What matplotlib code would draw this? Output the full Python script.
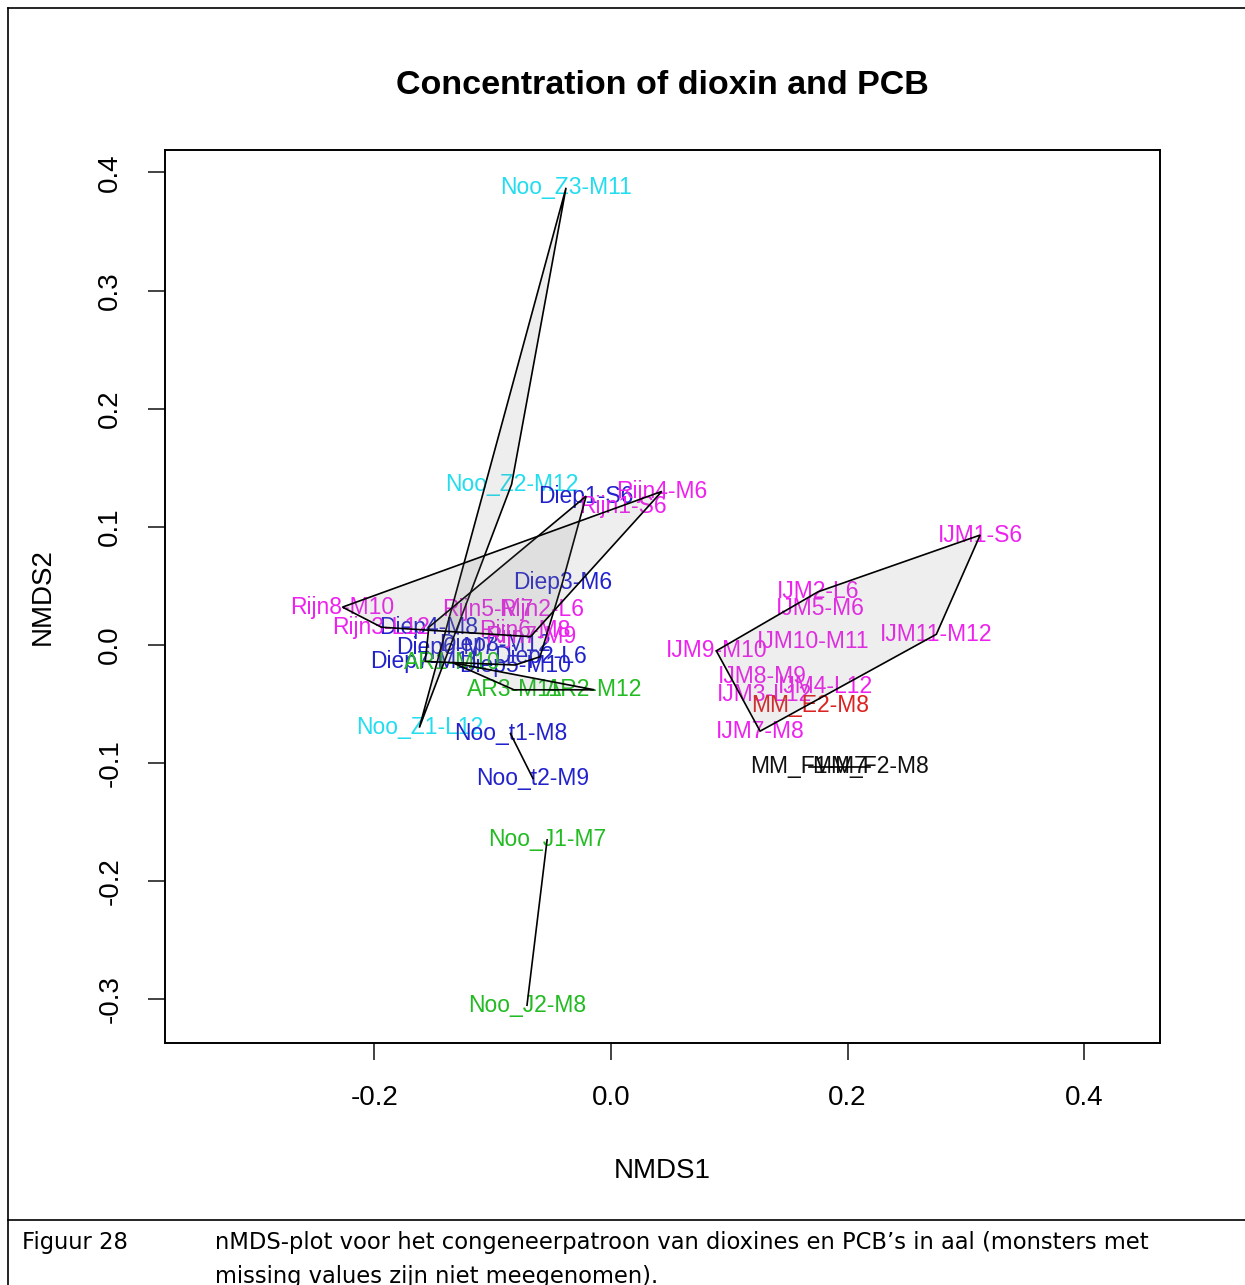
import numpy as np
import matplotlib.pyplot as plt
from matplotlib.lines import Line2D
from matplotlib.patches import Polygon

# sample labels, nMDS scores and hull group
labels = ["Noo_Z3-M11", "Noo_Z2-M12", "Noo_Z1-L12",
          "Diep1-S6", "Diep3-M6", "Diep4-M8", "Diep6-M7", "Diep7-M11", "Diep8-M12", "Diep2-L6", "Diep5-M10",
          "Noo_t1-M8", "Noo_t2-M9",
          "Rijn8-M10", "Rijn3-L12", "Rijn5-M7", "Rijn2-L6", "Rijn6-M8", "Rijn7-M9", "Rijn1-S6", "Rijn4-M6",
          "AR1-M10", "AR3-M11", "AR2-M12",
          "Noo_J1-M7", "Noo_J2-M8",
          "IJM1-S6", "IJM2-L6", "IJM5-M6", "IJM10-M11", "IJM11-M12", "IJM9-M10", "IJM8-M9", "IJM3-L12", "IJM4-L12", "IJM7-M8",
          "MM_E2-M8",
          "MM_F1-M7", "MM_F2-M8"]
nmds1 = [-0.038, -0.084, -0.162,
         -0.021, -0.041, -0.154, -0.140, -0.157, -0.098, -0.060, -0.081,
         -0.085, -0.066,
         -0.227, -0.194, -0.104, -0.059, -0.073, -0.068, 0.010, 0.043,
         -0.134, -0.082, -0.014,
         -0.054, -0.071,
         0.312, 0.175, 0.177, 0.171, 0.275, 0.089, 0.128, 0.130, 0.181, 0.126,
         0.168,
         0.167, 0.219]
nmds2 = [0.387, 0.136, -0.070,
         0.126, 0.053, 0.015, -0.002, -0.014, 0.000, -0.010, -0.017,
         -0.075, -0.113,
         0.032, 0.015, 0.030, 0.030, 0.012, 0.007, 0.117, 0.130,
         -0.015, -0.038, -0.038,
         -0.165, -0.305,
         0.093, 0.045, 0.031, 0.003, 0.009, -0.005, -0.027, -0.042, -0.035, -0.073,
         -0.051,
         -0.103, -0.103]
groups = (["Noo_Z"] * 3 + ["Diep"] * 8 + ["Noo_t"] * 2 + ["Rijn"] * 8 + ["AR"] * 3
          + ["Noo_J"] * 2 + ["IJM"] * 10 + ["MM_E"] + ["MM_F"] * 2)
group_col = {"Noo_Z": "#22DDEE", "Diep": "#2222CC", "Noo_t": "#2222CC",
             "Rijn": "#EE22EE", "IJM": "#EE22EE", "AR": "#22BB22", "Noo_J": "#22BB22",
             "MM_E": "#DD2222", "MM_F": "#111111"}


def hull(pts):
    # monotone chain convex hull
    pts = sorted(set(pts))
    if len(pts) < 3:
        return pts
    def cross(o, a, b):
        return (a[0]-o[0])*(b[1]-o[1]) - (a[1]-o[1])*(b[0]-o[0])
    lo, up = [], []
    for p in pts:
        while len(lo) >= 2 and cross(lo[-2], lo[-1], p) <= 0:
            lo.pop()
        lo.append(p)
    for p in reversed(pts):
        while len(up) >= 2 and cross(up[-2], up[-1], p) <= 0:
            up.pop()
        up.append(p)
    return lo[:-1] + up[:-1]


plt.rcParams['font.family'] = ['Liberation Sans', 'DejaVu Sans']
fig = plt.figure(figsize=(12.45, 12.85), dpi=100)
ax = fig.add_axes([0.1325, 0.1883, 0.7992, 0.695])

for lab, x, y, g in zip(labels, nmds1, nmds2, groups):
    ax.text(x, y, lab, color=group_col[g], fontsize=16.5, ha="center", va="center", zorder=2)

for g in dict.fromkeys(groups):
    pts = [(x, y) for x, y, gg in zip(nmds1, nmds2, groups) if gg == g]
    h = hull(pts)
    if len(h) >= 3:
        ax.add_patch(Polygon(h, closed=True, facecolor=(0.5, 0.5, 0.5, 0.13),
                             edgecolor="black", lw=1.2, zorder=3))
    elif len(h) == 2:
        ax.plot([h[0][0], h[1][0]], [h[0][1], h[1][1]], color="black", lw=1.2, zorder=3)

ax.set_xlim(-0.377, 0.464)
ax.set_ylim(-0.337, 0.419)
ax.set_xticks([-0.2, 0.0, 0.2, 0.4])
ax.set_yticks([-0.3, -0.2, -0.1, 0.0, 0.1, 0.2, 0.3, 0.4])
ax.set_xticklabels(["-0.2", "0.0", "0.2", "0.4"])
ax.set_yticklabels(["-0.3", "-0.2", "-0.1", "0.0", "0.1", "0.2", "0.3", "0.4"], rotation=90, va="center")
ax.tick_params(direction="out", length=12, width=1.2, labelsize=20, pad=18, color="#222222")
for s in ax.spines.values():
    s.set_linewidth(1.4)
ax.set_xlabel("NMDS1", fontsize=20, labelpad=34)
ax.set_ylabel("NMDS2", fontsize=20, labelpad=30)
ax.set_title("Concentration of dioxin and PCB", fontsize=24.5, fontweight="bold", pad=40)

# report frame and caption
fig.add_artist(Line2D([8/1245, 1], [1-8/1285, 1-8/1285], color="black", lw=1.2))
fig.add_artist(Line2D([8/1245, 8/1245], [0, 1-8/1285], color="black", lw=1.2))
fig.add_artist(Line2D([8/1245, 1], [1-1220/1285, 1-1220/1285], color="black", lw=1.2))
fig.text(22/1245, 1-1243/1285, "Figuur 28", family="DejaVu Sans", fontsize=16.3, va="center")
fig.text(215/1245, 1-1243/1285, "nMDS-plot voor het congeneerpatroon van dioxines en PCB\u2019s in aal (monsters met",
         family="DejaVu Sans", fontsize=16.3, va="center")
fig.text(215/1245, 1-1276/1285, "missing values zijn niet meegenomen).", family="DejaVu Sans", fontsize=16.3, va="center")

fig.savefig("out.png", dpi=100)
